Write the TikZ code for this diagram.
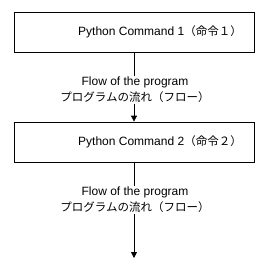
\documentclass[tikz,border=0pt]{standalone}
\usepackage{fontspec}
\setmainfont{Liberation Sans}
\newfontfamily\jp{Noto Sans CJK JP}
\usetikzlibrary{arrows.meta}

\tikzset{
  cmdbox/.style={draw, line width=0.8pt, minimum width=240pt, minimum height=40pt, inner sep=0pt},
  cmdtext/.style={font=\fontsize{12}{14}\selectfont, inner sep=0pt},
  flowlabel/.style={fill=white, align=center, font=\fontsize{12}{16}\selectfont, inner sep=1pt},
  flow/.style={line width=0.8pt, -{Triangle[length=6pt,width=6pt]}}
}

\begin{document}
\begin{tikzpicture}[x=1pt,y=-1pt]
  \useasboundingbox (0,0) rectangle (267,270);
  % the two commands
  \node[cmdbox] (cmd1) at (134,32) {};
  \node[cmdtext] (cmd1text) at (160,32) {Python Command 1{\jp\fontsize{11.5}{14}\selectfont （命令１）}};
  \node[cmdbox] (cmd2) at (134,142) {};
  \node[cmdtext] (cmd2text) at (160,142) {Python Command 2{\jp\fontsize{11.5}{14}\selectfont （命令２）}};
  \coordinate (end) at (134,258);
  % flow arrows
  \draw[flow] (cmd1) -- (cmd2);
  \draw[flow] (cmd2) -- (end);
  \node[flowlabel] (flow1) at (135,90) {Flow of the program\\{\jp\fontsize{11.5}{16}\selectfont プログラムの流れ（フロー）}};
  \node[flowlabel] (flow2) at (135,200) {Flow of the program\\{\jp\fontsize{11.5}{16}\selectfont プログラムの流れ（フロー）}};
\end{tikzpicture}
\end{document}
